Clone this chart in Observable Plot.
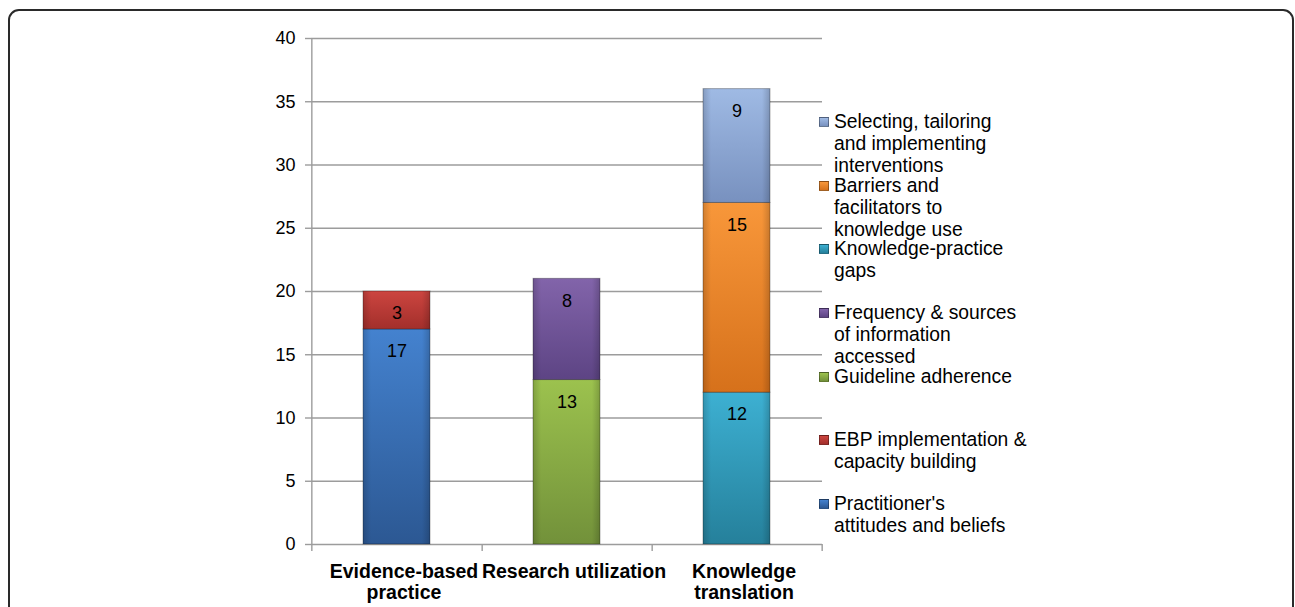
<!DOCTYPE html>
<html><head><meta charset="utf-8">
<script src="https://cdn.jsdelivr.net/npm/d3@7"></script>
<script src="https://cdn.jsdelivr.net/npm/@observablehq/plot@0.6"></script>
<style>
html,body{margin:0;padding:0;background:#fff;overflow:hidden;}
#wrap{position:relative;width:1295px;height:607px;font-family:"Liberation Sans",Arial,sans-serif;overflow:hidden;}
#frame{position:absolute;left:8px;top:9px;width:1286px;height:800px;border:2px solid #2a2a2a;border-radius:11px;box-sizing:border-box;}
#chart{position:absolute;left:0;top:0;}
.item{position:absolute;left:819px;white-space:pre;font-size:19.3px;line-height:22px;color:#000;}
.sw{position:absolute;left:0;top:6px;width:10px;height:10px;box-sizing:border-box;border:1px solid rgba(0,0,0,0.35);}
.t{position:absolute;left:15px;top:0;}
</style></head>
<body>
<div id="wrap"><div id="frame"></div><div id="chart"></div><div id="legend"></div></div>
<script>
const categories = ["Evidence-based practice", "Research utilization", "Knowledge translation"];
const categoryLabels = ["Evidence-based\npractice", "Research utilization", "Knowledge\ntranslation"];
const seriesNames = [
  "Selecting, tailoring and implementing interventions",
  "Barriers and facilitators to knowledge use",
  "Knowledge-practice gaps",
  "Frequency & sources of information accessed",
  "Guideline adherence",
  "EBP implementation & capacity building",
  "Practitioner's attitudes and beliefs"
];
const legendLines = [
  "Selecting, tailoring\nand implementing\ninterventions",
  "Barriers and\nfacilitators to\nknowledge use",
  "Knowledge-practice\ngaps",
  "Frequency & sources\nof information\naccessed",
  "Guideline adherence",
  "EBP implementation &\ncapacity building",
  "Practitioner's\nattitudes and beliefs"
];
const seriesTop = ["#9fbae4", "#f8973a", "#3db0d2", "#8264aa", "#9cc24e", "#cc4540", "#4482cf"];
const seriesBottom = ["#7891bf", "#d6711b", "#25809b", "#5d4484", "#72913a", "#a32f2b", "#2c5893"];
const stackSeries = [
  ["Practitioner's attitudes and beliefs", "EBP implementation & capacity building"],
  ["Guideline adherence", "Frequency & sources of information accessed"],
  ["Knowledge-practice gaps", "Barriers and facilitators to knowledge use", "Selecting, tailoring and implementing interventions"]
];
const stackValues = [[17, 3], [13, 8], [12, 15, 9]];
const yTicks = [0, 5, 10, 15, 20, 25, 30, 35, 40];

const data = [];
categories.forEach((c, ci) => stackSeries[ci].forEach((s, si) => data.push({cat: c, series: s, value: stackValues[ci][si]})));

const W = 1295, H = 607, mL = 311, mR = 473, mT = 38, mB = 63;
const halfStep = (W - mL - mR) / categories.length / 2;
const grid = "#9c9c9c";
const labelOf = new Map(categories.map((c, i) => [c, categoryLabels[i]]));

const chart = Plot.plot({
  width: W, height: H,
  marginLeft: mL, marginRight: mR, marginTop: mT, marginBottom: mB,
  x: {domain: categories, paddingInner: 0.607, paddingOuter: 0.3035, axis: null},
  y: {domain: [0, 40], axis: null},
  color: {domain: seriesNames, range: seriesNames.map((_, i) => `url(#grad${i})`)},
  style: {fontFamily: '"Liberation Sans", Arial, sans-serif', fontSize: "18px", color: "#000", background: "transparent", overflow: "visible"},
  marks: [
    Plot.gridY({ticks: yTicks, stroke: grid, strokeOpacity: 1, strokeWidth: 1.4}),
    Plot.axisY({ticks: yTicks, tickSize: 6, tickPadding: 10, stroke: grid, strokeWidth: 1.4, fontSize: 18, label: null}),
    Plot.ruleX([categories[0]], {x: d => d, y1: 40, y2: 0, dx: -halfStep, insetBottom: -7, stroke: grid, strokeWidth: 1.4}),
    Plot.ruleX(categories, {x: d => d, y1: 0, y2: 0, dx: halfStep, insetBottom: -7, stroke: grid, strokeWidth: 1.4}),
    Plot.barY(data, {x: "cat", y: "value", fill: "series", stroke: "rgba(0,0,0,0.3)", strokeWidth: 1}),
    Plot.barY(data, {x: "cat", y: "value", fill: "url(#shade)"}),
    Plot.text(data, Plot.stackY2({x: "cat", y: "value", text: d => String(d.value), dy: 22, lineAnchor: "middle", fontSize: 18, fill: "#000"})),
    Plot.text(categories, {x: d => d, frameAnchor: "bottom", text: d => labelOf.get(d), lineAnchor: "top", dy: 19, dx: 7, fontSize: 19.5, fontWeight: "bold", lineHeight: 1.05, fill: "#000"})
  ]
});

const svg = d3.select(chart);
const defs = svg.insert("defs", ":first-child");
seriesNames.forEach((s, i) => {
  const g = defs.append("linearGradient").attr("id", `grad${i}`).attr("x1", 0).attr("y1", 0).attr("x2", 0).attr("y2", 1);
  g.append("stop").attr("offset", "0%").attr("stop-color", seriesTop[i]);
  g.append("stop").attr("offset", "100%").attr("stop-color", seriesBottom[i]);
});
const sh = defs.append("linearGradient").attr("id", "shade").attr("x1", 0).attr("y1", 0).attr("x2", 1).attr("y2", 0);
[["0%", 0.16], ["12%", 0], ["88%", 0], ["100%", 0.18]].forEach(([o, a]) =>
  sh.append("stop").attr("offset", o).attr("stop-color", "#000").attr("stop-opacity", a));

document.getElementById("chart").appendChild(chart);

const legend = document.getElementById("legend");
seriesNames.forEach((s, i) => {
  const item = document.createElement("div");
  item.className = "item";
  item.style.top = (122 + i * 63.67 - 11) + "px";
  const sw = document.createElement("div");
  sw.className = "sw";
  sw.style.background = `linear-gradient(${seriesTop[i]}, ${seriesBottom[i]})`;
  const t = document.createElement("div");
  t.className = "t";
  t.textContent = legendLines[i];
  item.appendChild(sw); item.appendChild(t);
  legend.appendChild(item);
});
</script>
</body></html>
